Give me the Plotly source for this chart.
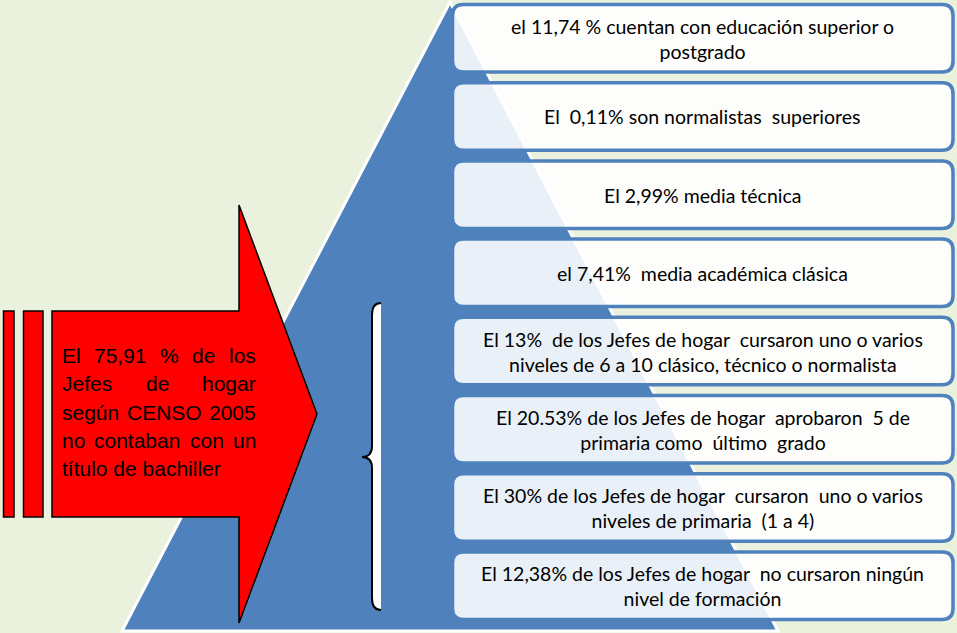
import plotly.graph_objects as go

# ---------------- data ----------------
box_labels = [
    "el 11,74 % cuentan con educación superior o<br>postgrado",
    "El \u00a00,11% son normalistas \u00a0superiores",
    "El 2,99% media técnica",
    "el 7,41% \u00a0media académica clásica",
    "El 13% \u00a0de los Jefes de hogar \u00a0cursaron uno o varios<br>niveles de 6 a 10 clásico, técnico o normalista",
    "El 20.53% de los Jefes de hogar \u00a0aprobaron \u00a05 de<br>primaria como \u00a0último \u00a0grado",
    "El 30% de los Jefes de hogar \u00a0cursaron \u00a0uno o varios<br>niveles de primaria \u00a0(1 a 4)",
    "El 12,38% de los Jefes de hogar \u00a0no cursaron ningún<br>nivel de formación",
]
arrow_lines = [
    "El 75,91 % de los",
    "Jefes de hogar",
    "según CENSO 2005",
    "no contaban con un",
    "título de bachiller",
]

# ---------------- style ----------------
W, H = 957, 633
GREEN = "#EAF1DD"
BLUE = "#4F81BD"
RED = "#FF0000"

fig = go.Figure()
fig.add_trace(go.Scatter(x=[0, W], y=[0, H], mode="markers",
                         marker=dict(opacity=0), hoverinfo="skip", showlegend=False))

shapes = []
# pyramid triangle
shapes.append(dict(type="path", path="M 450,2 L 122,631 L 778,631 Z",
                   fillcolor=BLUE, line=dict(color="white", width=3), layer="below"))


def rrect(x0, y0, x1, y1, r):
    return (f"M {x0+r},{y0} L {x1-r},{y0} Q {x1},{y0} {x1},{y0+r} "
            f"L {x1},{y1-r} Q {x1},{y1} {x1-r},{y1} L {x0+r},{y1} "
            f"Q {x0},{y1} {x0},{y1-r} L {x0},{y0+r} Q {x0},{y0} {x0+r},{y0} Z")


annotations = []
BX0, BX1 = 452.5, 953
for i, lab in enumerate(box_labels):
    top = 4.5 + 78.2 * i
    bot = top + 67.5
    shapes.append(dict(type="path", path=rrect(BX0, top, BX1, bot, 11),
                       fillcolor="rgba(255,255,255,0.88)",
                       line=dict(color=BLUE, width=3.5), layer="above"))
    annotations.append(dict(x=(BX0 + BX1) / 2, y=(top + bot) / 2 + 0.5, text=lab,
                            showarrow=False, xanchor="center", yanchor="middle",
                            font=dict(family="Lato", size=19.5, color="#000000"),
                            align="center", borderpad=0, borderwidth=0))

# red arrow + stripes
arrow_path = "M 52,311 L 239,311 L 239,205 L 317,414 L 239,623 L 239,517 L 52,517 Z"
shapes.append(dict(type="path", path=arrow_path, fillcolor=RED,
                   line=dict(color="black", width=1.5), layer="above"))
for x0, x1 in [(3.5, 14), (23.5, 43)]:
    shapes.append(dict(type="rect", x0=x0, x1=x1, y0=311, y1=517, fillcolor=RED,
                       line=dict(color="black", width=1.5), layer="above"))

# brace
brace_fill = ("M 381,303 Q 372,303 372,315 L 372,446 Q 372,457 362,457 "
              "Q 372,457 372,468 L 372,598 Q 372,610 381,610 Z")
brace_line = ("M 381,303 Q 372,303 372,315 L 372,446 Q 372,457 362,457 "
              "Q 372,457 372,468 L 372,598 Q 372,610 381,610")
shapes.append(dict(type="path", path=brace_fill, fillcolor="white",
                   line=dict(width=0), layer="above"))
shapes.append(dict(type="path", path=brace_line, fillcolor="rgba(0,0,0,0)",
                   line=dict(color="black", width=2), layer="above"))

# justified text in the arrow (Arial metrics)
AW = {' ': 278, 'E': 667, 'l': 222, '7': 556, '5': 556, ',': 278, '9': 556, '1': 556,
      '%': 889, 'd': 556, 'e': 556, 'o': 556, 's': 500, 'J': 500, 'f': 278, 'h': 556,
      'g': 556, 'a': 556, 'r': 333, 'ú': 556, 'n': 556, 'C': 722, 'N': 722, 'S': 667,
      'O': 778, '2': 556, '0': 556, 'c': 500, 't': 278, 'b': 556, 'u': 556, 'í': 278,
      'i': 222}
FS = 21
TX0, TX1 = 62, 256


def wwidth(w):
    return sum(AW.get(ch, 556) for ch in w) * FS / 1000.0


for k, line in enumerate(arrow_lines):
    yc = 355.5 + 28.3 * k
    words = line.split(" ")
    last = (k == len(arrow_lines) - 1)
    if last:
        annotations.append(dict(x=TX0, y=yc, text=line, showarrow=False,
                                xanchor="left", yanchor="middle", borderpad=0, borderwidth=0,
                                font=dict(family="Liberation Sans, Arial", size=FS, color="black")))
        continue
    widths = [wwidth(w) for w in words]
    gap = (TX1 - TX0 - sum(widths)) / (len(words) - 1)
    x = TX0
    for j, w in enumerate(words):
        annotations.append(dict(x=x, y=yc, text=w, showarrow=False,
                                xanchor="left", yanchor="middle", borderpad=0, borderwidth=0,
                                font=dict(family="Liberation Sans, Arial", size=FS, color="black")))
        x += widths[j] + gap

fig.update_layout(
    width=W, height=H, margin=dict(l=0, r=0, t=0, b=0),
    paper_bgcolor=GREEN, plot_bgcolor=GREEN,
    xaxis=dict(range=[0, W], visible=False, fixedrange=True),
    yaxis=dict(range=[H, 0], visible=False, fixedrange=True),
    shapes=shapes, annotations=annotations, showlegend=False,
)
fig.write_html("out.html",
               post_script="document.body.style.margin='0px';document.body.style.padding='0px';document.body.style.overflow='hidden';",
               config={"displayModeBar": False})
